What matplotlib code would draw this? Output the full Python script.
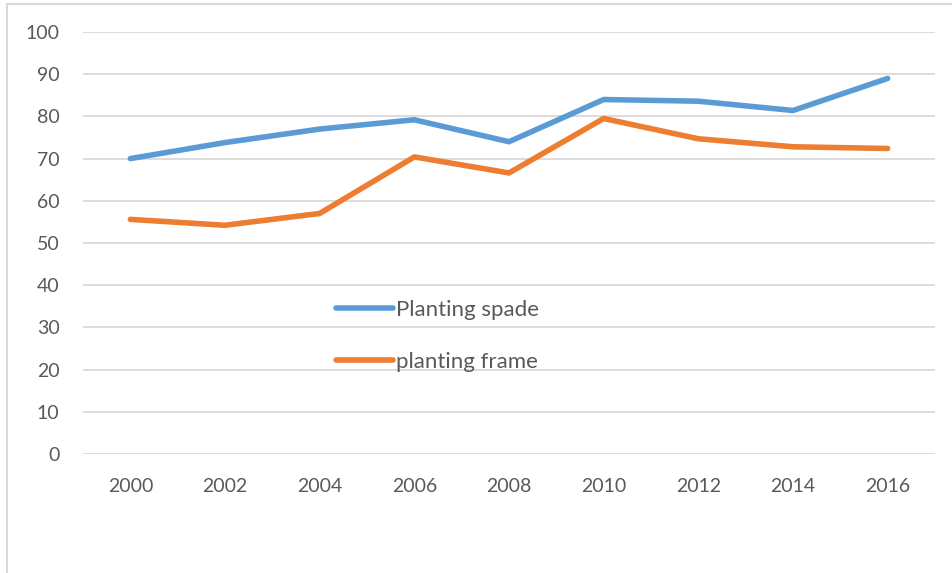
import matplotlib.pyplot as plt
from matplotlib.lines import Line2D

years = ['2000', '2002', '2004', '2006', '2008', '2010', '2012', '2014', '2016']
spade = [70.0, 73.8, 77.0, 79.2, 74.0, 84.0, 83.6, 81.4, 89.0]
frame = [55.6, 54.2, 57.0, 70.4, 66.6, 79.5, 74.7, 72.8, 72.4]

plt.rcParams['font.family'] = ['Lato', 'DejaVu Sans']
txt = '#595959'
grid = '#D9D9D9'

fig = plt.figure(figsize=(9.52, 5.73), dpi=100)
ax = fig.add_axes([83 / 952, 1 - 454 / 573, 852 / 952, 422 / 573])

x = range(len(years))
ax.plot(x, spade, color='#5B9BD5', lw=4, solid_capstyle='round', label='Planting spade')
ax.plot(x, frame, color='#ED7D31', lw=4, solid_capstyle='round', label='planting frame')

ax.set_xlim(-0.5, len(years) - 0.5)
ax.set_ylim(0, 100)
ax.set_yticks(range(0, 101, 10))
ax.set_xticks(list(x))
ax.set_xticklabels(years)
ax.yaxis.grid(True, color=grid, lw=1.3)
ax.set_axisbelow(True)
for s in ax.spines.values():
    s.set_visible(False)
ax.tick_params(length=0, labelsize=14, colors=txt)
ax.tick_params(axis='y', pad=17)
ax.tick_params(axis='x', pad=17)

ax.legend(loc='upper left', bbox_to_anchor=(336 / 952, 1 - 300 / 573),
          bbox_transform=fig.transFigure, frameon=False, fontsize=16,
          labelcolor=txt, handlelength=2.57, handletextpad=0.15,
          labelspacing=1.42, borderpad=0, borderaxespad=0)

# chart area border (top and left edges)
fig.add_artist(Line2D([7 / 952, 7 / 952], [0, 1 - 4 / 573], color=grid, lw=1.5,
                      transform=fig.transFigure))
fig.add_artist(Line2D([7 / 952, 1], [1 - 4 / 573, 1 - 4 / 573], color=grid, lw=1.5,
                      transform=fig.transFigure))

fig.savefig('out.png', dpi=100)
